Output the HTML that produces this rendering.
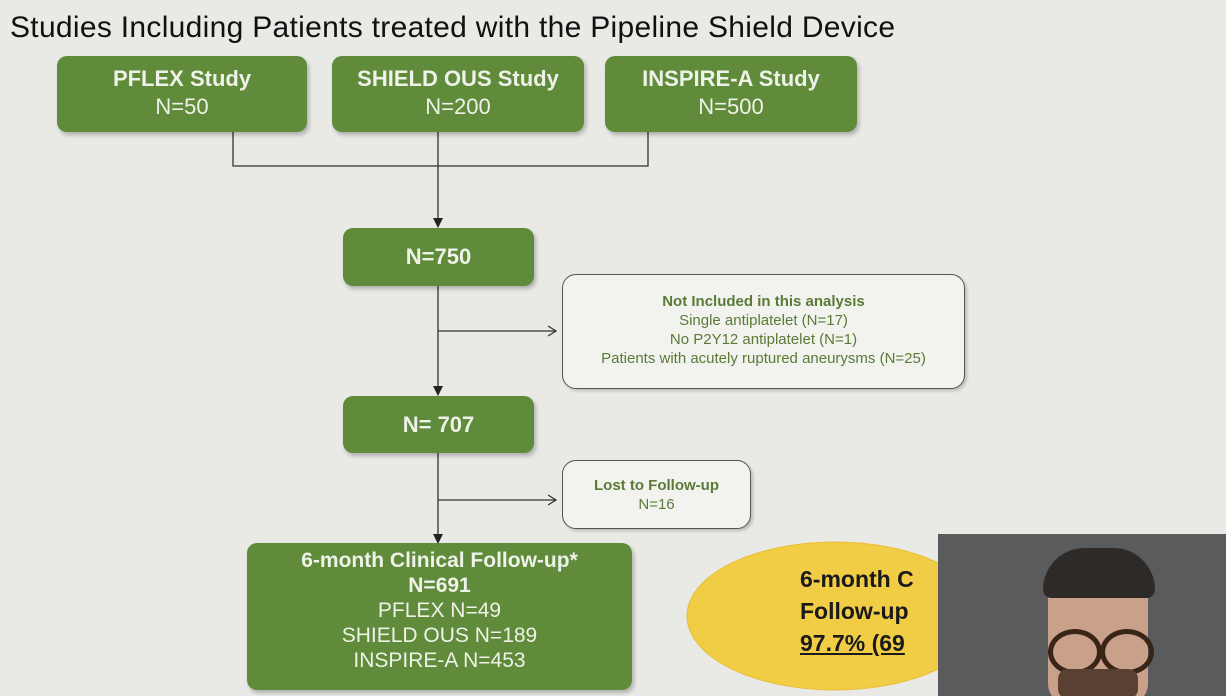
<!DOCTYPE html>
<html><head><style>
body{margin:0;width:1226px;height:696px;overflow:hidden;background:#e9eae6;font-family:"Liberation Sans","DejaVu Sans",sans-serif;position:relative}
.g{position:absolute;background:#5f8b3a;color:#eef2e8;border-radius:10px;text-align:center;box-shadow:2px 3px 4px rgba(0,0,0,.25)}
.g b{font-weight:bold}
.w{position:absolute;background:#f2f3ef;border:1.5px solid #555;border-radius:14px;text-align:center;color:#5a7a36;font-size:15px;line-height:19px;box-shadow:2px 2px 3px rgba(0,0,0,.2)}
.t{position:absolute;left:10px;top:11px;font-size:30px;color:#111;letter-spacing:0.3px}
</style></head><body>
<div class="t">Studies Including Patients treated with the Pipeline Shield Device</div>
<svg width="1226" height="696" style="position:absolute;left:0;top:0">
<g stroke="#333" stroke-width="1.3" fill="none">
<path d="M233 132V166H648V132M438 132V220"/>
<path d="M438 286V388M438 331H556"/>
<path d="M438 453V536M438 500H556"/>
<path d="M548 326l8 5-8 5M548 495l8 5-8 5"/>
</g>
<path d="M433 218l5 10 5-10zM433 386l5 10 5-10zM433 534l5 10 5-10z" fill="#222"/>
<ellipse cx="835" cy="616" rx="148" ry="74" fill="#f1cc45" stroke="#e8bd36"/>
</svg>
<div class="g" style="left:57px;top:56px;width:250px;height:76px;font-size:22px;line-height:28px;padding-top:9px;box-sizing:border-box"><b>PFLEX Study</b><br>N=50</div>
<div class="g" style="left:332px;top:56px;width:252px;height:76px;font-size:22px;line-height:28px;padding-top:9px;box-sizing:border-box"><b>SHIELD OUS Study</b><br>N=200</div>
<div class="g" style="left:605px;top:56px;width:252px;height:76px;font-size:22px;line-height:28px;padding-top:9px;box-sizing:border-box"><b>INSPIRE-A Study</b><br>N=500</div>
<div class="g" style="left:343px;top:228px;width:191px;height:58px;font-size:22px;line-height:58px"><b>N=750</b></div>
<div class="g" style="left:343px;top:396px;width:191px;height:57px;font-size:22px;line-height:57px"><b>N= 707</b></div>
<div class="w" style="left:562px;top:274px;width:403px;height:115px;padding-top:17px;box-sizing:border-box"><b>Not Included in this analysis</b><br>Single antiplatelet (N=17)<br>No P2Y12 antiplatelet (N=1)<br>Patients with acutely ruptured aneurysms (N=25)</div>
<div class="w" style="left:562px;top:460px;width:189px;height:69px;padding-top:15px;box-sizing:border-box"><b>Lost to Follow-up</b><br>N=16</div>
<div class="g" style="left:247px;top:543px;width:385px;height:147px;font-size:21px;line-height:25px;padding-top:5px;box-sizing:border-box"><b>6-month Clinical Follow-up*<br>N=691</b><br>PFLEX N=49<br>SHIELD OUS N=189<br>INSPIRE-A N=453</div>
<div style="position:absolute;left:800px;top:563px;font-size:23px;font-weight:bold;line-height:32px;color:#1a1a1a;white-space:nowrap">6-month C<br>Follow-up<br><span style="text-decoration:underline">97.7% (69</span></div>
<div style="position:absolute;left:938px;top:534px;width:288px;height:162px;background:#5a5b5c;overflow:hidden">
<div style="position:absolute;left:110px;top:20px;width:100px;height:150px;border-radius:45px 45px 20px 20px;background:#c9a08a"></div>
<div style="position:absolute;left:105px;top:14px;width:112px;height:50px;border-radius:50px 50px 10px 10px;background:#2e2a28"></div>
<div style="position:absolute;left:110px;top:95px;width:44px;height:36px;border-radius:50%;border:5px solid #3a2418"></div>
<div style="position:absolute;left:162px;top:95px;width:44px;height:36px;border-radius:50%;border:5px solid #3a2418"></div>
<div style="position:absolute;left:120px;top:135px;width:80px;height:30px;background:#5a4032;border-radius:10px"></div>
</div>
</body></html>
